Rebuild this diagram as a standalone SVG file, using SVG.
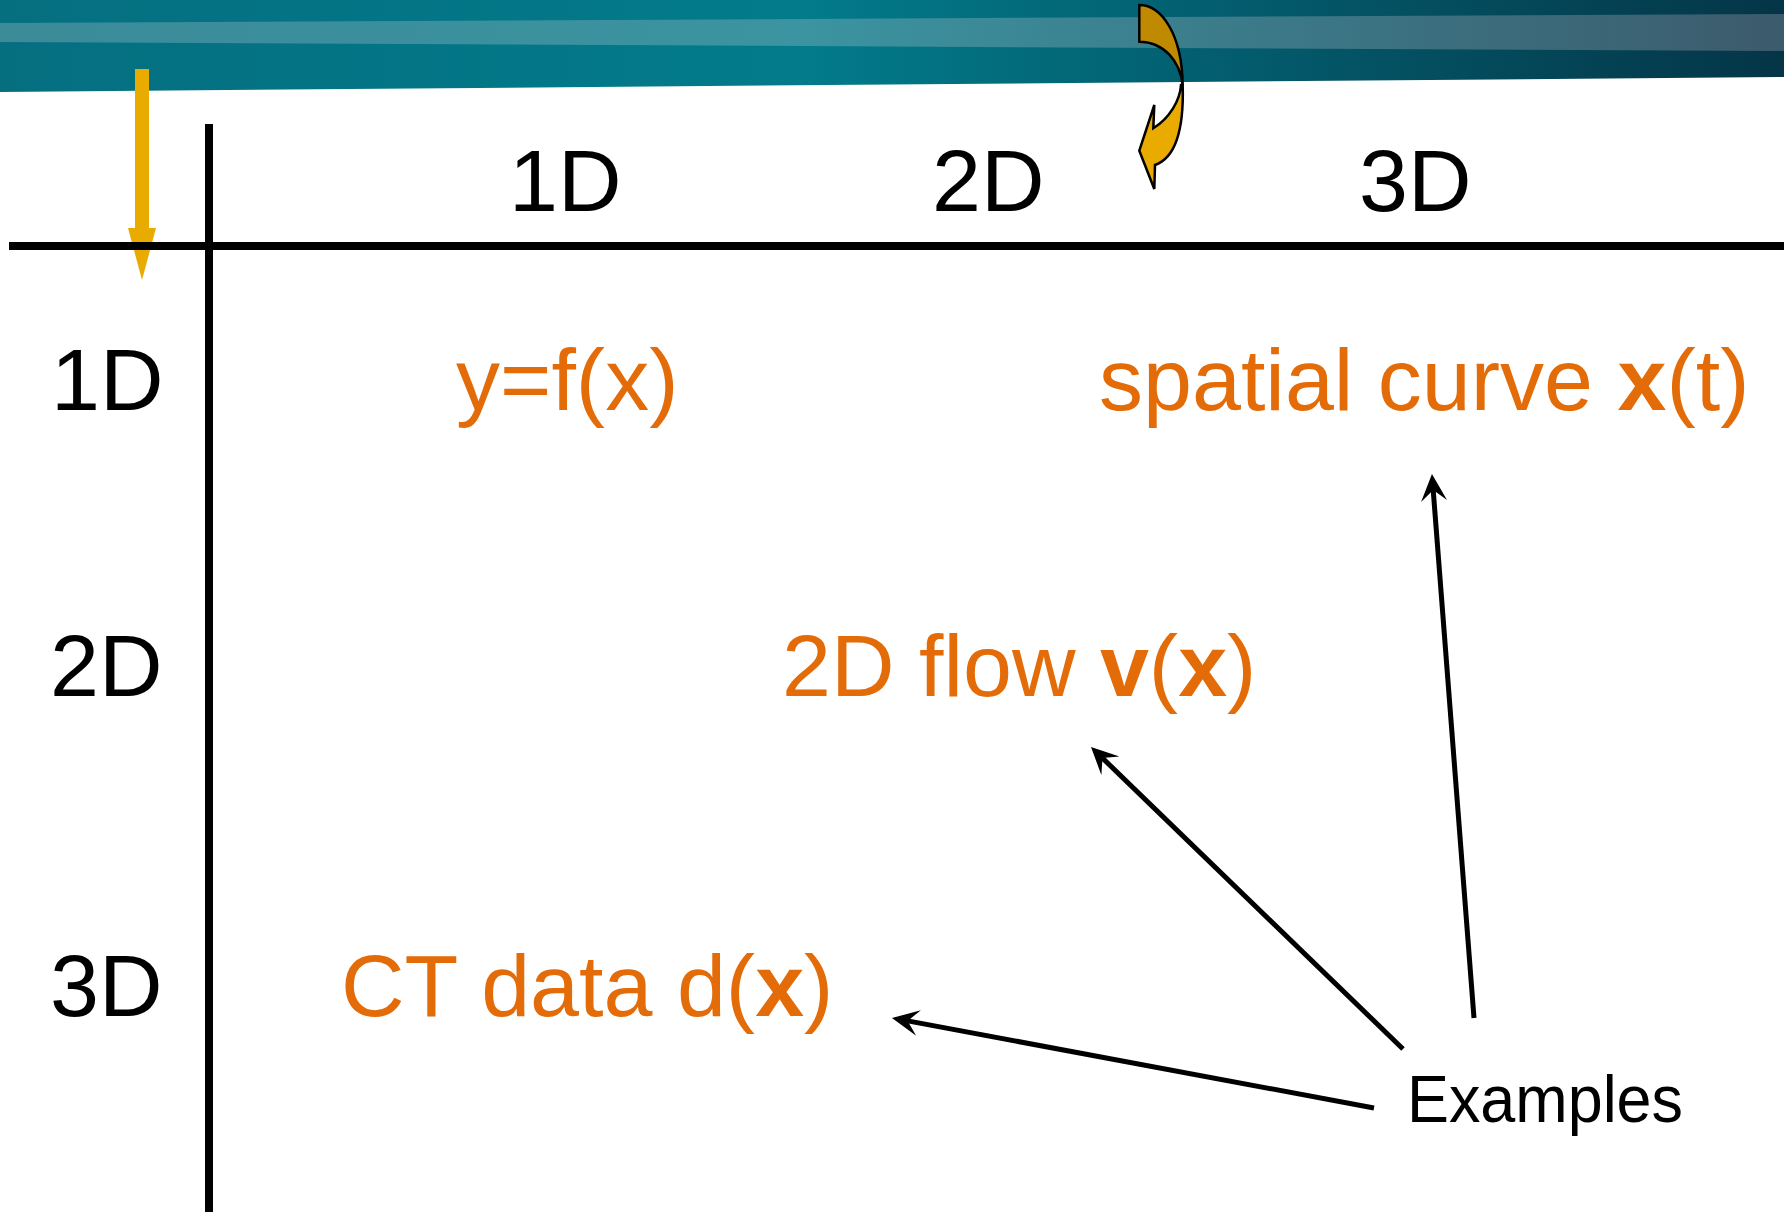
<svg xmlns="http://www.w3.org/2000/svg" width="1784" height="1212" viewBox="0 0 1784 1212">
<style>
  .lbl { font-family: "Liberation Sans", Arial, sans-serif; font-size: 88px; fill: #000000; }
  .ex { font-family: "Liberation Sans", Arial, sans-serif; font-size: 88px; fill: #e36c09; }
  .conn { stroke: #000000; stroke-width: 5; fill: none; marker-end: url(#stealth); }
  .grid { stroke: #000000; stroke-width: 8; fill: none; }
</style>
<defs>
  <linearGradient id="bannerGrad" x1="0" y1="0" x2="1" y2="0">
    <stop offset="0" stop-color="#056f80"/>
    <stop offset="0.45" stop-color="#027b8b"/>
    <stop offset="1" stop-color="#043547"/>
  </linearGradient>
  <linearGradient id="bandGrad" x1="0" y1="0" x2="1" y2="0">
    <stop offset="0" stop-color="#3b8b99"/>
    <stop offset="0.45" stop-color="#3b94a1"/>
    <stop offset="1" stop-color="#3c5b6c"/>
  </linearGradient>
  <marker id="stealth" markerUnits="userSpaceOnUse" markerWidth="30" markerHeight="30" refX="11" refY="13" orient="auto">
    <path d="M0,0 L27,13 L0,26 L11,13 Z" fill="#000000"/>
  </marker>
</defs>

<rect x="0" y="0" width="1784" height="1212" fill="#ffffff"/>

<g id="banner">
  <polygon points="0,0 1784,0 1784,77 0,92" fill="url(#bannerGrad)"/>
  <polygon points="0,23 1784,14 1784,51 0,42" fill="url(#bandGrad)"/>
</g>

<g id="yellow-arrow">
  <rect x="135" y="69" width="14" height="160" fill="#e9ab00"/>
  <polygon points="128,228 156,228 142,280" fill="#e9ab00"/>
</g>

<g id="grid-lines">
  <line class="grid" x1="9" y1="246" x2="1784" y2="246"/>
  <line class="grid" x1="209" y1="124" x2="209" y2="1212"/>
</g>

<g id="curved-arrow" stroke="#000000" stroke-width="2.5" stroke-linejoin="miter">
  <path d="M1139.3,5 C1162,5 1182,35 1182.7,85 C1180,62 1165,42 1139.3,41.7 Z" fill="#c08a00"/>
  <path d="M1182.7,85 C1184,130 1175,158 1155,165 L1154.3,189 L1139.3,150.7 L1154.3,105 L1153.3,128.3 C1170,118 1180,100 1181,85 Z" fill="#eaab00"/>
</g>

<g id="col-1d"><text class="lbl" x="509" y="211">1D</text></g>
<g id="col-2d"><text class="lbl" x="932" y="211">2D</text></g>
<g id="col-3d"><text class="lbl" x="1359" y="211">3D</text></g>

<g id="row-1d"><text class="lbl" x="51" y="410">1D</text></g>
<g id="row-2d"><text class="lbl" x="50" y="696">2D</text></g>
<g id="row-3d"><text class="lbl" x="50" y="1016">3D</text></g>

<g id="ex-yfx"><text class="ex" x="456" y="410">y=f(x)</text></g>
<g id="ex-spatial"><text class="ex" x="1099" y="410">spatial curve <tspan font-weight="bold">x</tspan>(t)</text></g>
<g id="ex-flow"><text class="ex" x="782" y="696">2D flow <tspan font-weight="bold">v</tspan>(<tspan font-weight="bold">x</tspan>)</text></g>
<g id="ex-ct"><text class="ex" x="341" y="1016">CT data d(<tspan font-weight="bold">x</tspan>)</text></g>

<g id="examples-label">
  <text x="1407" y="1122" font-family="Liberation Sans, Arial, sans-serif" font-size="67" fill="#000000" textLength="276" lengthAdjust="spacingAndGlyphs">Examples</text>
</g>

<g id="connectors">
  <line class="conn" x1="1474" y1="1018" x2="1433.2" y2="490"/>
  <line class="conn" x1="1403" y1="1049" x2="1102.5" y2="758.1"/>
  <line class="conn" x1="1374" y1="1108" x2="907.7" y2="1020.9"/>
</g>
</svg>
